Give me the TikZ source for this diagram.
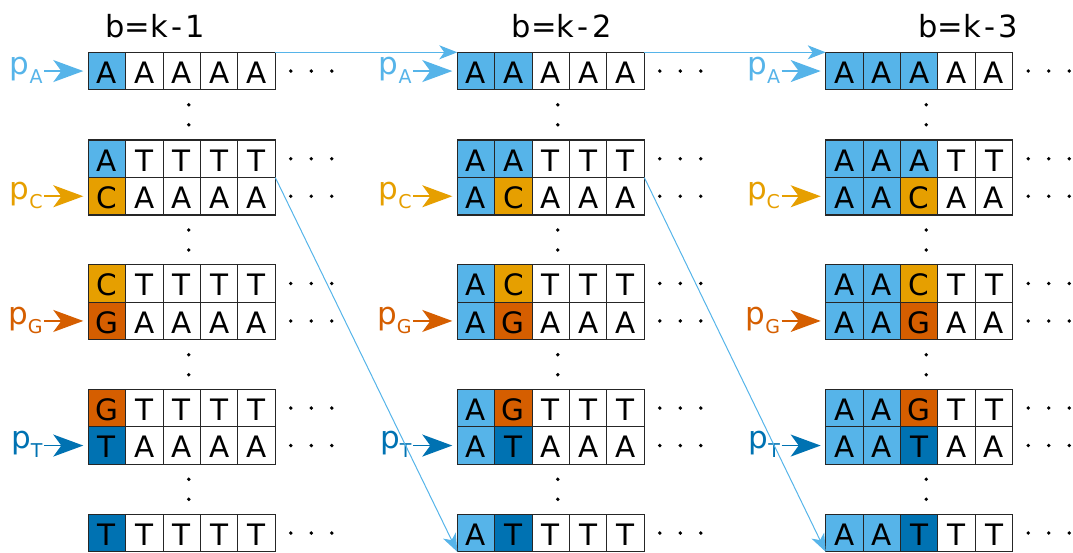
\documentclass[tikz,border=0pt]{standalone}
\usepackage{fontspec}
\setmainfont{DejaVu Sans}
\usetikzlibrary{arrows.meta,calc}
\definecolor{sky}{RGB}{86,180,233}
\definecolor{orng}{RGB}{230,159,0}
\definecolor{verm}{RGB}{213,94,0}
\definecolor{dblue}{RGB}{0,114,178}
\tikzset{
 cell/.style={draw=black!85, line width=1.1pt, minimum width=37.4pt, minimum height=37.5pt, inner sep=0pt, outer sep=0pt, text height=24.5pt, text depth=0pt, font=\fontsize{29.5}{31}\selectfont},
 plabel/.style={inner sep=0pt, anchor=base east, font=\fontsize{31}{33}\selectfont},
 parrow/.style={line width=1.6pt, -{Stealth[length=30pt,width=22pt,inset=8pt]}},
 link/.style={sky, line width=1pt, -{Stealth[length=18pt,width=14pt,inset=5pt]}},
 title/.style={anchor=base west, inner sep=0pt, font=\fontsize{30.5}{33}\selectfont},
 dot/.style={circle, fill=black, inner sep=0pt, minimum size=3.8pt},
}
% #1 name, #2 left, #3 top, #4 panel index, #5 highlight letter, #6 its colour, #7 background letter
\newcommand\seqrow[7]{%
  \foreach \i in {1,...,5}{%
    \ifnum\i<#4\relax \def\seqlt{A}\def\seqcl{sky}\else\ifnum\i=#4\relax \def\seqlt{#5}\def\seqcl{#6}\else \def\seqlt{#7}\def\seqcl{white}\fi\fi
    \node[cell, fill=\seqcl] (#1-\i) at ({#2+\i*37.4-18.7},{#3+18.75}) {\seqlt};
  }
  \foreach \dx [count=\j] in {15.5,36,56.5}{%
    \node[dot] (#1-h\j) at ({#2+187+\dx},{#3+18.75}) {};
  }
}
\newcommand\seqvdots[3]{% #1 name, #2 left, #3 bottom of the row above
  \node[dot] (#1-v1) at ({#2+100.5},{#3+15}) {};
  \node[dot] (#1-v2) at ({#2+100.5},{#3+35}) {};
}
\newcommand\seqsub[1]{\lower9pt\hbox{\fontsize{19}{19}\selectfont #1}}
\newcommand\seqminus{\kern3.5pt-\kern3.5pt}
\begin{document}
\begin{tikzpicture}[x=1pt,y=-1pt]
\useasboundingbox (0,0) rectangle (1073,552);
\node[title] (t1) at (105,37.3) {b=k\seqminus 1};
\node[title] (t2) at (511.7,37.3) {b=k\seqminus 2};
\node[title] (t3) at (918,37.3) {b=k\seqminus 3};
\foreach \k/\px in {1/88.3, 2/457.3, 3/825.7}{%
  \seqrow{r0-\k}{\px}{52.3}{\k}{A}{sky}{A}
  \seqrow{p1a-\k}{\px}{140}{\k}{A}{sky}{T}
  \seqrow{p1b-\k}{\px}{177.5}{\k}{C}{orng}{A}
  \seqrow{p2a-\k}{\px}{264.7}{\k}{C}{orng}{T}
  \seqrow{p2b-\k}{\px}{302.2}{\k}{G}{verm}{A}
  \seqrow{p3a-\k}{\px}{389.3}{\k}{G}{verm}{T}
  \seqrow{p3b-\k}{\px}{426.8}{\k}{T}{dblue}{A}
  \seqrow{r4-\k}{\px}{514.3}{\k}{T}{dblue}{T}
  \seqvdots{g0-\k}{\px}{89.8}
  \seqvdots{g1-\k}{\px}{215}
  \seqvdots{g2-\k}{\px}{339.7}
  \seqvdots{g3-\k}{\px}{464.3}
  \node[plabel, sky] (pa-\k) at ({\px-45.5},74) {p\seqsub{A}};
  \node[plabel, orng] (pc-\k) at ({\px-45.5},199.3) {p\seqsub{C}};
  \node[plabel, verm] (pg-\k) at ({\px-45.5},324) {p\seqsub{G}};
  \node[plabel, dblue] (pt-\k) at ({\px-45.5},448.6) {p\seqsub{T}};
  \draw[parrow, sky] ($(pa-\k.east |- r0-\k-1.west)+(1.5,0)$) -- ($(r0-\k-1.west)+(-5,0)$);
  \draw[parrow, orng] ($(pc-\k.east |- p1b-\k-1.west)+(1.5,0)$) -- ($(p1b-\k-1.west)+(-5,0)$);
  \draw[parrow, verm] ($(pg-\k.east |- p2b-\k-1.west)+(1.5,0)$) -- ($(p2b-\k-1.west)+(-5,0)$);
  \draw[parrow, dblue] ($(pt-\k.east |- p3b-\k-1.west)+(1.5,0)$) -- ($(p3b-\k-1.west)+(-5,0)$);
}
\draw[link] (r0-1-5.north east) -- (r0-2-1.north west);
\draw[link] (r0-2-5.north east) -- (r0-3-1.north west);
\draw[link] (p1b-1-5.north east) -- (r4-2-1.south west);
\draw[link] (p1b-2-5.north east) -- (r4-3-1.south west);
\end{tikzpicture}
\end{document}
